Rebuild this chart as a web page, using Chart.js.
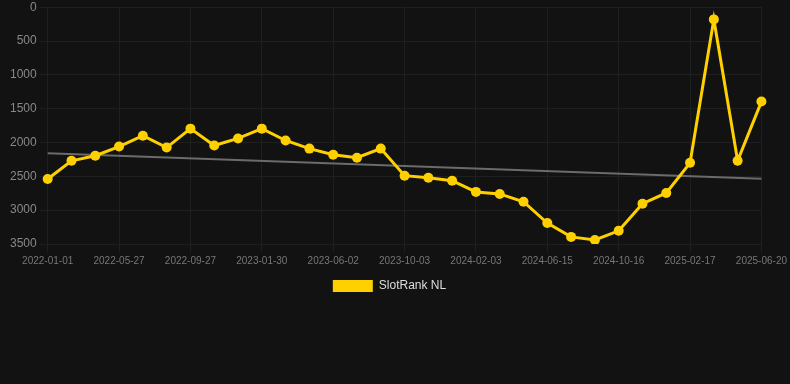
<!DOCTYPE html>
<html>
<head>
<meta charset="utf-8">
<script src="https://cdn.jsdelivr.net/npm/chart.js@4"></script>
<style>
  html, body { margin: 0; padding: 0; background: #121212; overflow: hidden; }
  #wrap { position: relative; width: 790px; height: 387px; margin-top: -3px; }
</style>
</head>
<body>
<div id="wrap"><canvas id="rankChart"></canvas></div>
<script>
// dates on the x axis (only every 3rd one is shown)
const labels = [
  '2022-01-01', '2022-02-18', '2022-04-08', '2022-05-27', '2022-07-07', '2022-08-17',
  '2022-09-27', '2022-11-07', '2022-12-19', '2023-01-30', '2023-03-12', '2023-04-22',
  '2023-06-02', '2023-07-13', '2023-08-23', '2023-10-03', '2023-11-13', '2023-12-24',
  '2024-02-03', '2024-03-19', '2024-05-01', '2024-06-15', '2024-07-27', '2024-09-04',
  '2024-10-16', '2024-11-28', '2025-01-05', '2025-02-17', '2025-03-30', '2025-05-10',
  '2025-06-20'
];

// rank values (lower is better, axis is reversed)
const rankNL = [
  2540, 2270, 2195, 2060, 1900, 2075, 1795, 2045, 1940, 1795, 1970, 2090,
  2180, 2225, 2090, 2490, 2520, 2565, 2730, 2760, 2875, 3190, 3395, 3440,
  3305, 2905, 2745, 2300, 180, 2270, 1395
];

// trend line, start and end values
const trendStart = 2160;
const trendEnd = 2535;
const trend = labels.map((_, i) => i === 0 ? trendStart : (i === labels.length - 1 ? trendEnd : null));

const yTicks = [0, 500, 1000, 1500, 2000, 2500, 3000, 3500];

const fontFamily = 'Arial, "Liberation Sans", Helvetica, sans-serif';

// nudge the legend a bit to the left, like in the original
const legendShift = {
  id: 'legendShift',
  afterLayout(chart) {
    if (chart.legend) {
      chart.legend.left -= 9;
      chart.legend.right -= 9;
    }
  }
};

const ctx = document.getElementById('rankChart').getContext('2d');

new Chart(ctx, {
  type: 'line',
  data: {
    labels: labels,
    datasets: [{
      label: 'SlotRank NL',
      data: rankNL,
      borderColor: '#ffd000',
      backgroundColor: '#ffd000',
      borderWidth: 3,
      pointRadius: 5,
      pointHoverRadius: 6,
      pointBackgroundColor: '#ffd000',
      pointBorderWidth: 0,
      tension: 0
    }, {
      label: 'Trend',
      data: trend,
      borderColor: '#6b6b6b',
      borderWidth: 2,
      pointRadius: 0,
      spanGaps: true,
      fill: false
    }]
  },
  options: {
    responsive: true,
    maintainAspectRatio: false,
    animation: false,
    layout: {
      padding: { top: 0, right: 0, bottom: 82, left: 7 }
    },
    plugins: {
      legend: {
        position: 'bottom',
        labels: {
          color: '#dddddd',
          font: { family: fontFamily, size: 12 },
          boxWidth: 40,
          boxHeight: 12,
          generateLabels: chart => Chart.defaults.plugins.legend.labels.generateLabels(chart)
            .filter(item => item.text !== 'Trend')
            .map(item => Object.assign(item, { lineWidth: 0 }))
        }
      },
      tooltip: { enabled: false }
    },
    scales: {
      x: {
        grid: { color: '#1f1f1f', tickLength: 8 },
        border: { display: false },
        ticks: {
          color: '#777777',
          font: { family: fontFamily, size: 10 },
          autoSkip: false,
          maxRotation: 0,
          callback: (v, i) => i % 3 === 0 ? labels[i] : null
        }
      },
      y: {
        reverse: true,
        min: 0,
        max: 3500,
        grid: { color: '#1f1f1f', tickLength: 8 },
        border: { display: false },
        afterBuildTicks: axis => { axis.ticks = yTicks.map(v => ({ value: v })); },
        ticks: {
          color: '#888888',
          font: { family: fontFamily, size: 12 },
          callback: v => String(v)
        }
      }
    }
  },
  plugins: [legendShift]
});
</script>
</body>
</html>
